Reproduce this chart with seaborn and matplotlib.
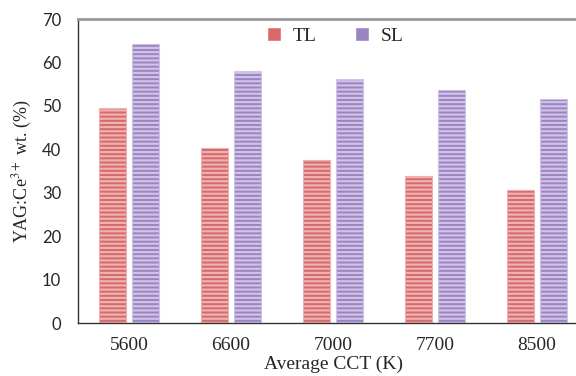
import pandas as pd
import numpy as np
import seaborn as sns
import matplotlib.pyplot as plt

cct = ["5600", "6600", "7000", "7700", "8500"]
tl = [49.4, 40.2, 37.6, 33.8, 30.7]
sl = [64.3, 58.0, 56.1, 53.7, 51.5]

df = pd.DataFrame({"cct": cct * 2,
                   "wt": tl + sl,
                   "type": ["TL"] * len(cct) + ["SL"] * len(cct)})

sns.set_theme(style="white")
plt.rcParams["font.family"] = ["Liberation Serif", "DejaVu Serif"]
plt.rcParams["mathtext.fontset"] = "stix"
plt.rcParams["hatch.linewidth"] = 1.6

fig = plt.figure(figsize=(5.76, 3.76), dpi=100)
ax = fig.add_axes([78 / 576, 53 / 376, 510 / 576, 304 / 376])

sns.barplot(data=df, x="cct", y="wt", hue="type", ax=ax,
            palette={"TL": "#d66a6a", "SL": "#9a84c2"},
            width=0.66, gap=0.2, saturation=1)

edge = {"TL": "#eeb0b0", "SL": "#cfc2e6"}
for cont, name in zip(ax.containers, ["TL", "SL"]):
    for bar in cont:
        bar.set_hatch("----")
        bar.set_edgecolor(edge[name])
        bar.set_linewidth(0.8)

ax.set_ylim(0, 70)
ax.set_xlim(-0.5, 4.5)
ax.set_yticks(range(0, 71, 10))
ax.set_yticklabels([str(v) for v in range(0, 71, 10)], family=["Lato", "DejaVu Sans"], fontsize=12)
ax.tick_params(axis="x", labelsize=14, pad=10, length=0)
ax.tick_params(axis="y", pad=12, length=0)

ax.set_xlabel("Average CCT (K)", fontsize=14, labelpad=1)
ax.set_ylabel("YAG:Ce$^{3+}$ wt. (%)", fontsize=13, labelpad=6)

for s in ["left", "bottom"]:
    ax.spines[s].set_color("#333333")
    ax.spines[s].set_linewidth(1.0)
ax.spines["top"].set_color("#999999")
ax.spines["top"].set_linewidth(2)
ax.spines["right"].set_visible(False)

leg = ax.legend(loc="upper center", bbox_to_anchor=(0.505, 1.03), ncol=2, frameon=False,
                fontsize=14, handlelength=0.7, handleheight=0.7, columnspacing=2.0, handletextpad=0.6)

plt.savefig("out.png", dpi=100)
